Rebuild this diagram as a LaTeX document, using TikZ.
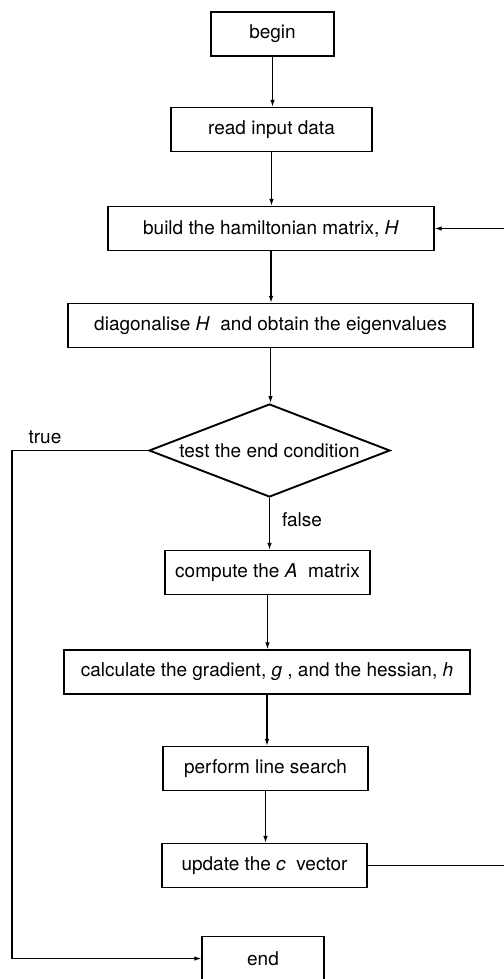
\documentclass[tikz,border=0pt]{standalone}
\usepackage{fontspec}
\setmainfont{TeX Gyre Heros}
\usetikzlibrary{shapes.geometric,arrows.meta}

\begin{document}
\begin{tikzpicture}[x=1pt, y=-1pt, font=\fontsize{19}{23}\selectfont]
  \useasboundingbox (0,0) rectangle (503,979);
  \tikzset{box/.style={draw, line width=1.3pt, inner sep=0pt, minimum height=44pt},
    decision/.style={draw, diamond, line width=1.9pt, inner sep=0pt, aspect=2.6,
      minimum width=241pt, minimum height=93pt},
    flow/.style={line width=1.2pt, -{Latex[length=7pt,width=4.5pt]}},
    tag/.style={inner sep=0pt}}
  % ---- main column of steps, top to bottom ----
  \foreach \nm/\cx/\cy/\bw/\txt in {
    start/272.5/34/123/{begin},
    read/271.5/129.5/201/{read input data},
    build/271/228.5/326/{build the hamiltonian matrix, \textit{H}},
    diag/270.5/325.5/405/{diagonalise \textit{H}\ \ and obtain the eigenvalues},
    amat/267.5/572.5/205/{compute the \textit{A}\ \ matrix},
    grad/267/672/406/{calculate the gradient, \textit{g} , and the hessian, \textit{h}},
    search/265.5/768.5/205/{perform line search},
    update/264.5/865.5/205/{update the \textit{c}\ \ vector},
    stop/263/958.5/122/{end}} {
    \node[box, minimum width=\bw pt] (\nm) at (\cx,\cy) {\txt};
  }
  \node[decision] (test) at (269.5,450.5) {test the end condition};
  % ---- connectors ----
  \foreach \a/\b in {start/read, read/build, build/diag, diag/test, test/amat,
    amat/grad, grad/search, search/update} {
    \draw[flow] (\a.south) -- (\a.south |- \b.north);
  }
  \draw[flow] (test.west) -- ++(-136,0) |- (stop.west);
  \draw[flow] (update.east) -- ++(138,0) |- (build.east);
  \node[tag] (truelbl) at (45,437) {true};
  \node[tag] (falselbl) at (302,520) {false};
\end{tikzpicture}
\end{document}
